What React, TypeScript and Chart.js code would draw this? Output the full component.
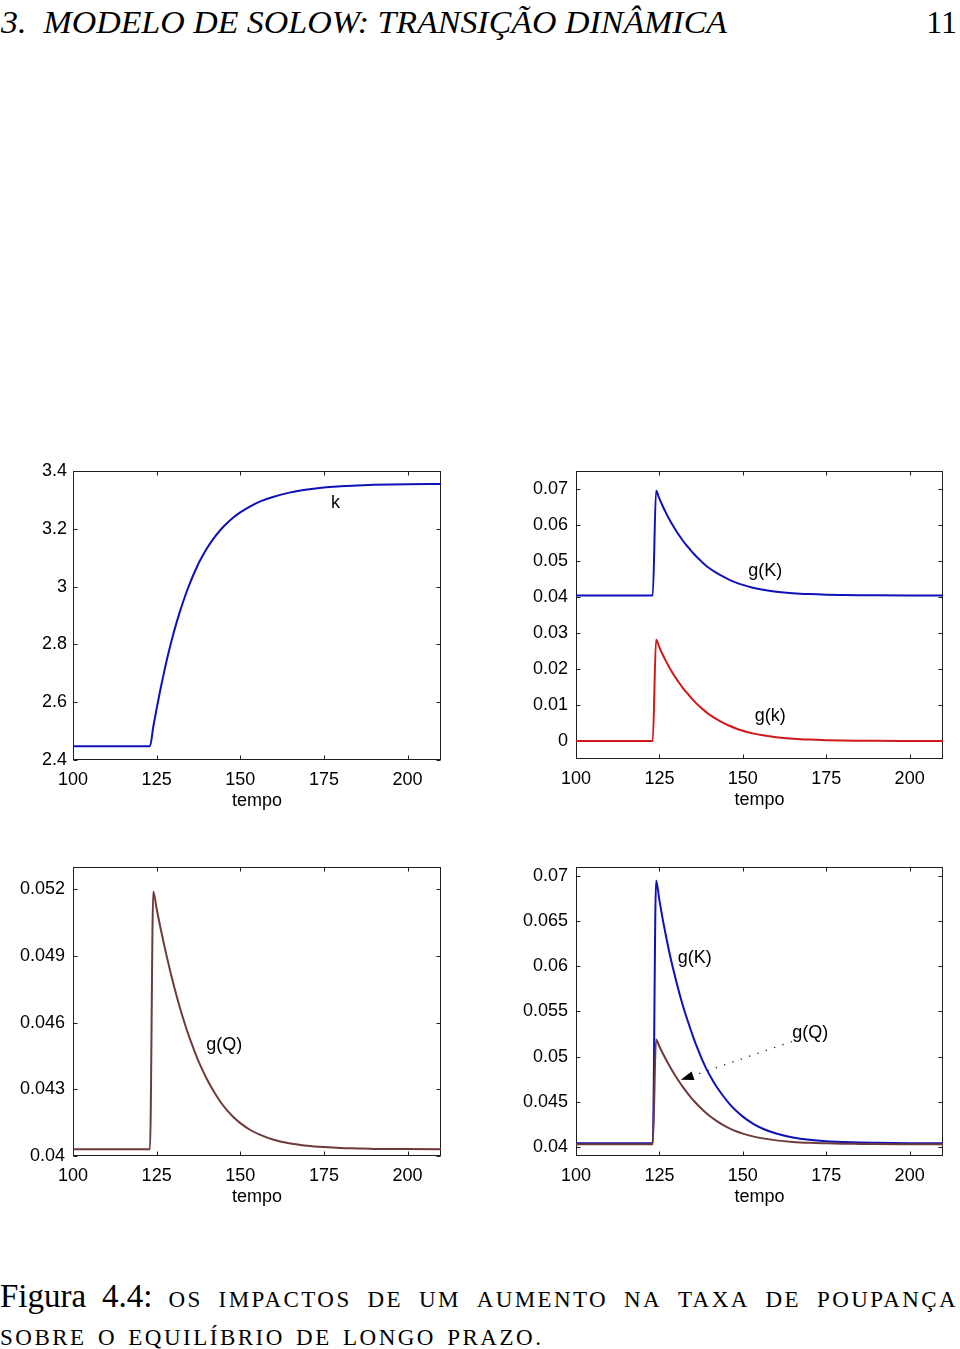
import React, { useEffect, useLayoutEffect, useRef, useState } from "react";
import { Chart, registerables } from "chart.js";

Chart.register(...registerables);

// ---------- data ----------
const TIME = [100, 122, 123, 124, 125, 126, 127, 128, 129, 130, 131, 132, 133, 134, 135, 136, 137, 138, 139, 140, 142, 144, 146, 148, 150, 153, 156, 160, 165, 170, 175, 180, 185, 190, 200, 210];

// capital per worker k
const K_LEVEL = [2.448, 2.448, 2.448, 2.515, 2.578, 2.637, 2.692, 2.744, 2.792, 2.836, 2.877, 2.915, 2.95, 2.983, 3.013, 3.041, 3.067, 3.091, 3.112, 3.132, 3.166, 3.195, 3.219, 3.24, 3.257, 3.278, 3.295, 3.311, 3.326, 3.336, 3.343, 3.347, 3.35, 3.352, 3.354, 3.355];

// growth of aggregate capital g(K)
const G_K_AGG = [0.0404, 0.0404, 0.0404, 0.0695, 0.0673, 0.0652, 0.0633, 0.0615, 0.0599, 0.0584, 0.057, 0.0557, 0.0545, 0.0534, 0.0523, 0.0513, 0.0504, 0.0495, 0.0487, 0.048, 0.04675, 0.0457, 0.04478, 0.044, 0.04336, 0.04259, 0.04202, 0.04149, 0.04106, 0.0408, 0.04064, 0.04055, 0.04049, 0.04046, 0.04042, 0.04041];

// growth of capital per worker g(k)
const G_K_PW = [0, 0, 0, 0.0281, 0.026, 0.02396, 0.02212, 0.02038, 0.01884, 0.01739, 0.01604, 0.01478, 0.01362, 0.01256, 0.0115, 0.01053, 0.00966, 0.00879, 0.00802, 0.00734, 0.00613, 0.00512, 0.00423, 0.00348, 0.00286, 0.00212, 0.00157, 0.00105, 0.00064, 0.00039, 0.00024, 0.00014, 0.00009, 0.00005, 0.00002, 0.00001];

// growth of output g(Q)
const G_Q = [0.0403, 0.0403, 0.0403, 0.0519, 0.05112, 0.05037, 0.04966, 0.04899, 0.04835, 0.04775, 0.04719, 0.04665, 0.04615, 0.04568, 0.04525, 0.04484, 0.04445, 0.0441, 0.04377, 0.04346, 0.04292, 0.04245, 0.04206, 0.04174, 0.04148, 0.04117, 0.04095, 0.04073, 0.04056, 0.04046, 0.0404, 0.04036, 0.04034, 0.04032, 0.04031, 0.0403];

const X_RANGE = [100, 210];
const X_TICKS = [100, 125, 150, 175, 200];
const X_TITLE = "tempo";

const Y_RANGE_K = [2.4, 3.4];
const Y_TICKS_K = [2.4, 2.6, 2.8, 3, 3.2, 3.4];
const Y_RANGE_G = [-0.005, 0.075];
const Y_TICKS_G = [0, 0.01, 0.02, 0.03, 0.04, 0.05, 0.06, 0.07];
const Y_RANGE_Q = [0.04, 0.053];
const Y_TICKS_Q = [0.04, 0.043, 0.046, 0.049, 0.052];
const Y_RANGE_KQ = [0.039, 0.071];
const Y_TICKS_KQ = [0.04, 0.045, 0.05, 0.055, 0.06, 0.065, 0.07];

const HEADER = "3.  MODELO DE SOLOW: TRANSIÇÃO DINÂMICA";
const PAGE_NO = "11";
const CAPTION_LEAD = "Figura 4.4:";
const CAPTION_1 = "OS IMPACTOS DE UM AUMENTO NA TAXA DE POUPANÇA";
const CAPTION_2 = "SOBRE O EQUILÍBRIO DE LONGO PRAZO.";

const BLUE = "#1010b8";
const RED = "#d01818";
const BROWN = "#6e3a3a";
const SANS = "'Liberation Sans', Arial, Helvetica, sans-serif";
const SERIF = "'Liberation Serif', 'Times New Roman', serif";

type Label = { text: string; x: number; y: number };
type Arrow = { from: number[]; to: number[] };
type Series = { data: number[]; color: string };
type PanelProps = {
  left: number;
  top: number;
  width: number;
  height: number;
  yAxisWidth: number;
  padTop: number;
  padRight: number;
  plotHeight: number;
  yLabelPad: number;
  series: Series[];
  yRange: number[];
  yTicks: number[];
  labels: Label[];
  arrow?: Arrow;
};

const fmt = (v: number) => String(+Number(v).toFixed(4));

function Panel(p: PanelProps) {
  const ref = useRef<HTMLCanvasElement>(null);
  useEffect(() => {
    const canvas = ref.current;
    if (!canvas) return;
    const xAxisHeight = p.height - p.padTop - p.plotHeight;

    const plugin = {
      id: "matlabFrame",
      beforeDatasetsDraw(chart: any) {
        const { ctx, chartArea: a, scales } = chart;
        ctx.save();
        ctx.strokeStyle = "#1e1e1e";
        ctx.lineWidth = 1;
        const L = Math.round(a.left) + 0.5;
        const R = Math.round(a.right) - 0.5;
        const T = Math.round(a.top) + 0.5;
        const B = Math.round(a.bottom) - 0.5;
        ctx.strokeRect(L, T, R - L, B - T);
        const tl = 4;
        ctx.beginPath();
        X_TICKS.forEach((v) => {
          const px = Math.round(scales.x.getPixelForValue(v)) + 0.5;
          ctx.moveTo(px, B);
          ctx.lineTo(px, B - tl);
          ctx.moveTo(px, T);
          ctx.lineTo(px, T + tl);
        });
        p.yTicks.forEach((v) => {
          const py = Math.round(scales.y.getPixelForValue(v)) + 0.5;
          ctx.moveTo(L, py);
          ctx.lineTo(L + tl, py);
          ctx.moveTo(R, py);
          ctx.lineTo(R - tl, py);
        });
        ctx.stroke();
        ctx.restore();
      },
      afterDatasetsDraw(chart: any) {
        const { ctx, chartArea: a, scales } = chart;
        ctx.save();
        ctx.fillStyle = "#000";
        ctx.font = `18px ${SANS}`;
        ctx.textAlign = "center";
        ctx.textBaseline = "middle";
        p.labels.forEach((l) => {
          ctx.fillText(l.text, scales.x.getPixelForValue(l.x), scales.y.getPixelForValue(l.y));
        });
        ctx.fillText(X_TITLE, (a.left + a.right) / 2, a.bottom + 41);
        if (p.arrow) {
          const x0 = scales.x.getPixelForValue(p.arrow.from[0]);
          const y0 = scales.y.getPixelForValue(p.arrow.from[1]);
          const x1 = scales.x.getPixelForValue(p.arrow.to[0]);
          const y1 = scales.y.getPixelForValue(p.arrow.to[1]);
          const ang = Math.atan2(y1 - y0, x1 - x0);
          const hl = 13;
          const hw = 4.5;
          const bx = x1 - hl * Math.cos(ang);
          const by = y1 - hl * Math.sin(ang);
          ctx.strokeStyle = "#222";
          ctx.lineWidth = 1.3;
          ctx.setLineDash([1.3, 7.5]);
          ctx.beginPath();
          ctx.moveTo(x0, y0);
          ctx.lineTo(bx, by);
          ctx.stroke();
          ctx.setLineDash([]);
          ctx.fillStyle = "#000";
          ctx.beginPath();
          ctx.moveTo(x1, y1);
          ctx.lineTo(bx + hw * Math.sin(ang), by - hw * Math.cos(ang));
          ctx.lineTo(bx - hw * Math.sin(ang), by + hw * Math.cos(ang));
          ctx.closePath();
          ctx.fill();
        }
        ctx.restore();
      },
    };

    const chart = new Chart(canvas, {
      type: "line",
      data: {
        datasets: p.series.map((s) => ({
          data: TIME.map((t, i) => ({ x: t, y: s.data[i] })),
          borderColor: s.color,
          backgroundColor: s.color,
          borderWidth: 2,
          pointRadius: 0,
          fill: false,
          cubicInterpolationMode: "monotone" as const,
          borderJoinStyle: "round" as const,
        })),
      },
      options: {
        animation: false,
        responsive: false,
        maintainAspectRatio: false,
        events: [],
        layout: { padding: { top: p.padTop, right: p.padRight, left: 0, bottom: 0 } },
        plugins: { legend: { display: false }, tooltip: { enabled: false } },
        scales: {
          x: {
            type: "linear",
            min: X_RANGE[0],
            max: X_RANGE[1],
            grid: { display: false, drawTicks: false },
            border: { display: false },
            afterBuildTicks: (s: any) => {
              s.ticks = X_TICKS.map((v) => ({ value: v }));
            },
            afterFit: (s: any) => {
              s.height = xAxisHeight;
            },
            ticks: {
              color: "#000",
              font: { family: SANS, size: 18 },
              padding: 9,
              maxRotation: 0,
              autoSkip: false,
              callback: (v: any) => fmt(v),
            },
          },
          y: {
            type: "linear",
            min: p.yRange[0],
            max: p.yRange[1],
            grid: { display: false, drawTicks: false },
            border: { display: false },
            afterBuildTicks: (s: any) => {
              s.ticks = p.yTicks.map((v) => ({ value: v }));
            },
            afterFit: (s: any) => {
              s.width = p.yAxisWidth;
            },
            ticks: {
              color: "#000",
              font: { family: SANS, size: 18 },
              padding: p.yLabelPad,
              autoSkip: false,
              callback: (v: any) => fmt(v),
            },
          },
        },
      },
      plugins: [plugin],
    } as any);
    return () => chart.destroy();
  }, []);
  return (
    <canvas
      ref={ref}
      width={p.width}
      height={p.height}
      style={{ position: "absolute", left: p.left, top: p.top, width: p.width, height: p.height }}
    />
  );
}

function FitText({ text, width, style }: { text: string; width: number; style: React.CSSProperties }) {
  const ref = useRef<HTMLSpanElement>(null);
  const [scale, setScale] = useState(1);
  useLayoutEffect(() => {
    const el = ref.current;
    if (el && el.offsetWidth > 0) setScale(width / el.offsetWidth);
  }, [text, width]);
  return (
    <span
      ref={ref}
      style={{
        ...style,
        display: "inline-block",
        whiteSpace: "pre",
        transformOrigin: "left center",
        transform: `scaleX(${scale})`,
      }}
    >
      {text}
    </span>
  );
}

export default function App() {
  return (
    <div style={{ position: "absolute", left: 0, top: 0, width: 960, height: 1349, background: "#fff", overflow: "hidden" }}>
      <div style={{ position: "absolute", left: 1, top: 6, height: 32, lineHeight: "32px" }}>
        <FitText
          text={HEADER}
          width={726}
          style={{ fontFamily: SERIF, fontStyle: "italic", fontSize: 32, lineHeight: "32px", color: "#000" }}
        />
      </div>
      <div
        style={{
          position: "absolute",
          right: 3,
          top: 6,
          fontFamily: SERIF,
          fontSize: 32,
          lineHeight: "32px",
          color: "#000",
        }}
      >
        {PAGE_NO}
      </div>

      <Panel
        left={0}
        top={440}
        width={460}
        height={400}
        yAxisWidth={73}
        padTop={31}
        padRight={19}
        plotHeight={289}
        yLabelPad={6}
        series={[{ data: K_LEVEL, color: BLUE }]}
        yRange={Y_RANGE_K}
        yTicks={Y_TICKS_K}
        labels={[{ text: "k", x: 178.5, y: 3.288 }]}
      />
      <Panel
        left={500}
        top={440}
        width={460}
        height={400}
        yAxisWidth={76}
        padTop={31}
        padRight={17}
        plotHeight={288}
        yLabelPad={8}
        series={[
          { data: G_K_AGG, color: BLUE },
          { data: G_K_PW, color: RED },
        ]}
        yRange={Y_RANGE_G}
        yTicks={Y_TICKS_G}
        labels={[
          { text: "g(K)", x: 156.7, y: 0.0471 },
          { text: "g(k)", x: 158.2, y: 0.0068 },
        ]}
      />
      <Panel
        left={0}
        top={840}
        width={460}
        height={400}
        yAxisWidth={73}
        padTop={27}
        padRight={19}
        plotHeight={289}
        yLabelPad={8}
        series={[{ data: G_Q, color: BROWN }]}
        yRange={Y_RANGE_Q}
        yTicks={Y_TICKS_Q}
        labels={[{ text: "g(Q)", x: 145.2, y: 0.045 }]}
      />
      <Panel
        left={500}
        top={840}
        width={460}
        height={400}
        yAxisWidth={76}
        padTop={27}
        padRight={17}
        plotHeight={289}
        yLabelPad={8}
        series={[
          { data: G_Q, color: BROWN },
          { data: G_K_AGG, color: BLUE },
        ]}
        yRange={Y_RANGE_KQ}
        yTicks={Y_TICKS_KQ}
        labels={[
          { text: "g(K)", x: 135.6, y: 0.0609 },
          { text: "g(Q)", x: 170.2, y: 0.0526 },
        ]}
        arrow={{ from: [164.7, 0.05167], to: [131.4, 0.04743] }}
      />

      <div
        style={{
          position: "absolute",
          left: 0,
          top: 1280,
          width: 958,
          fontFamily: SERIF,
          fontSize: 33,
          lineHeight: "33px",
          color: "#000",
          textAlign: "justify",
          textAlignLast: "justify" as any,
          whiteSpace: "nowrap",
        }}
      >
        <span>{CAPTION_LEAD}</span>{" "}
        {CAPTION_1.split(" ").map((w, i) => (
          <React.Fragment key={i}>
            <span style={{ fontSize: 23, letterSpacing: 2.4 }}>{w}</span>
            {" "}
          </React.Fragment>
        ))}
      </div>
      <div
        style={{
          position: "absolute",
          left: 0,
          top: 1326,
          fontFamily: SERIF,
          fontSize: 23,
          lineHeight: "23px",
          letterSpacing: 2.5,
          wordSpacing: 3,
          color: "#000",
          whiteSpace: "nowrap",
        }}
      >
        {CAPTION_2}
      </div>
    </div>
  );
}
